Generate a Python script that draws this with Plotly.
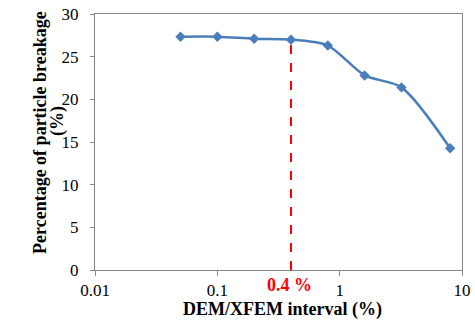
import plotly.graph_objects as go
import math

interval = [0.05, 0.1, 0.2, 0.4, 0.8, 1.6, 3.2, 8]
breakage = [27.34, 27.34, 27.1, 26.99, 26.3, 22.8, 21.4, 14.26]
marker_x = 0.4
marker_y = 26.99
x_ticks = [0.01, 0.1, 1, 10]
x_tick_text = ["0.01", "0.1", "1", "10"]
y_ticks = [0, 5, 10, 15, 20, 25, 30]

L, R, T, B = 95, 13, 14, 54
W, H = 475, 324
pw, ph = W - L - R, H - T - B

fig = go.Figure()
fig.add_trace(go.Scatter(
    x=[marker_x, marker_x], y=[0, marker_y], mode="lines",
    line=dict(color="#FF0000", width=2, dash="dash"), showlegend=False,
    hoverinfo="skip"))
fig.add_trace(go.Scatter(
    x=interval, y=breakage, mode="lines+markers",
    line=dict(color="#4A7EBB", width=2.5, shape="spline", smoothing=0.8),
    marker=dict(symbol="diamond", size=8, color="#4A7EBB"),
    showlegend=False))

serif = "Liberation Serif"
# red label under dashed line
fig.add_annotation(x=math.log10(marker_x), y=0, xref="x", yref="paper",
                   text="<b>0.4 %</b>", showarrow=False, yanchor="middle",
                   xshift=-1, yshift=-15,
                   font=dict(family=serif, size=18, color="#FF0000"))
# x title
fig.add_annotation(x=(282 - L) / pw, y=(H - B - 309) / ph, xref="paper", yref="paper",
                   text="<b>DEM/XFEM interval (%)</b>", showarrow=False,
                   xanchor="center", yanchor="middle",
                   font=dict(family=serif, size=18, color="black"))
# y title, two lines
fig.add_annotation(x=(40 - L) / pw, y=(H - B - 133) / ph, xref="paper", yref="paper",
                   text="<b>Percentage of particle breakage</b>", showarrow=False,
                   textangle=-90, xanchor="center", yanchor="middle",
                   font=dict(family=serif, size=18, color="black"))
fig.add_annotation(x=(57 - L) / pw, y=(H - B - 121) / ph, xref="paper", yref="paper",
                   text="<b>(%)</b>", showarrow=False,
                   textangle=-90, xanchor="center", yanchor="middle",
                   font=dict(family=serif, size=18, color="black"))

fig.update_layout(
    width=W, height=H,
    margin=dict(l=L, r=R, t=T, b=B, autoexpand=False),
    paper_bgcolor="white", plot_bgcolor="white",
    font=dict(family=serif, size=17, color="black"),
    xaxis=dict(type="log", range=[-2, 1], tickvals=x_ticks, ticktext=x_tick_text,
               showgrid=False, zeroline=False, showline=True, linecolor="#868686",
               linewidth=1, mirror=True, ticks="outside", ticklen=5,
               tickcolor="#868686", ticklabelstandoff=0, automargin=False,
               tickfont=dict(family=serif, size=17, color="black")),
    yaxis=dict(range=[0, 30], tickvals=y_ticks, showgrid=False, zeroline=False,
               showline=True, linecolor="#868686", linewidth=1, mirror=True,
               ticks="outside", ticklen=4, tickcolor="#868686",
               ticklabelstandoff=8, automargin=False,
               tickfont=dict(family=serif, size=17, color="black")),
)

fig.write_html("out.html")
